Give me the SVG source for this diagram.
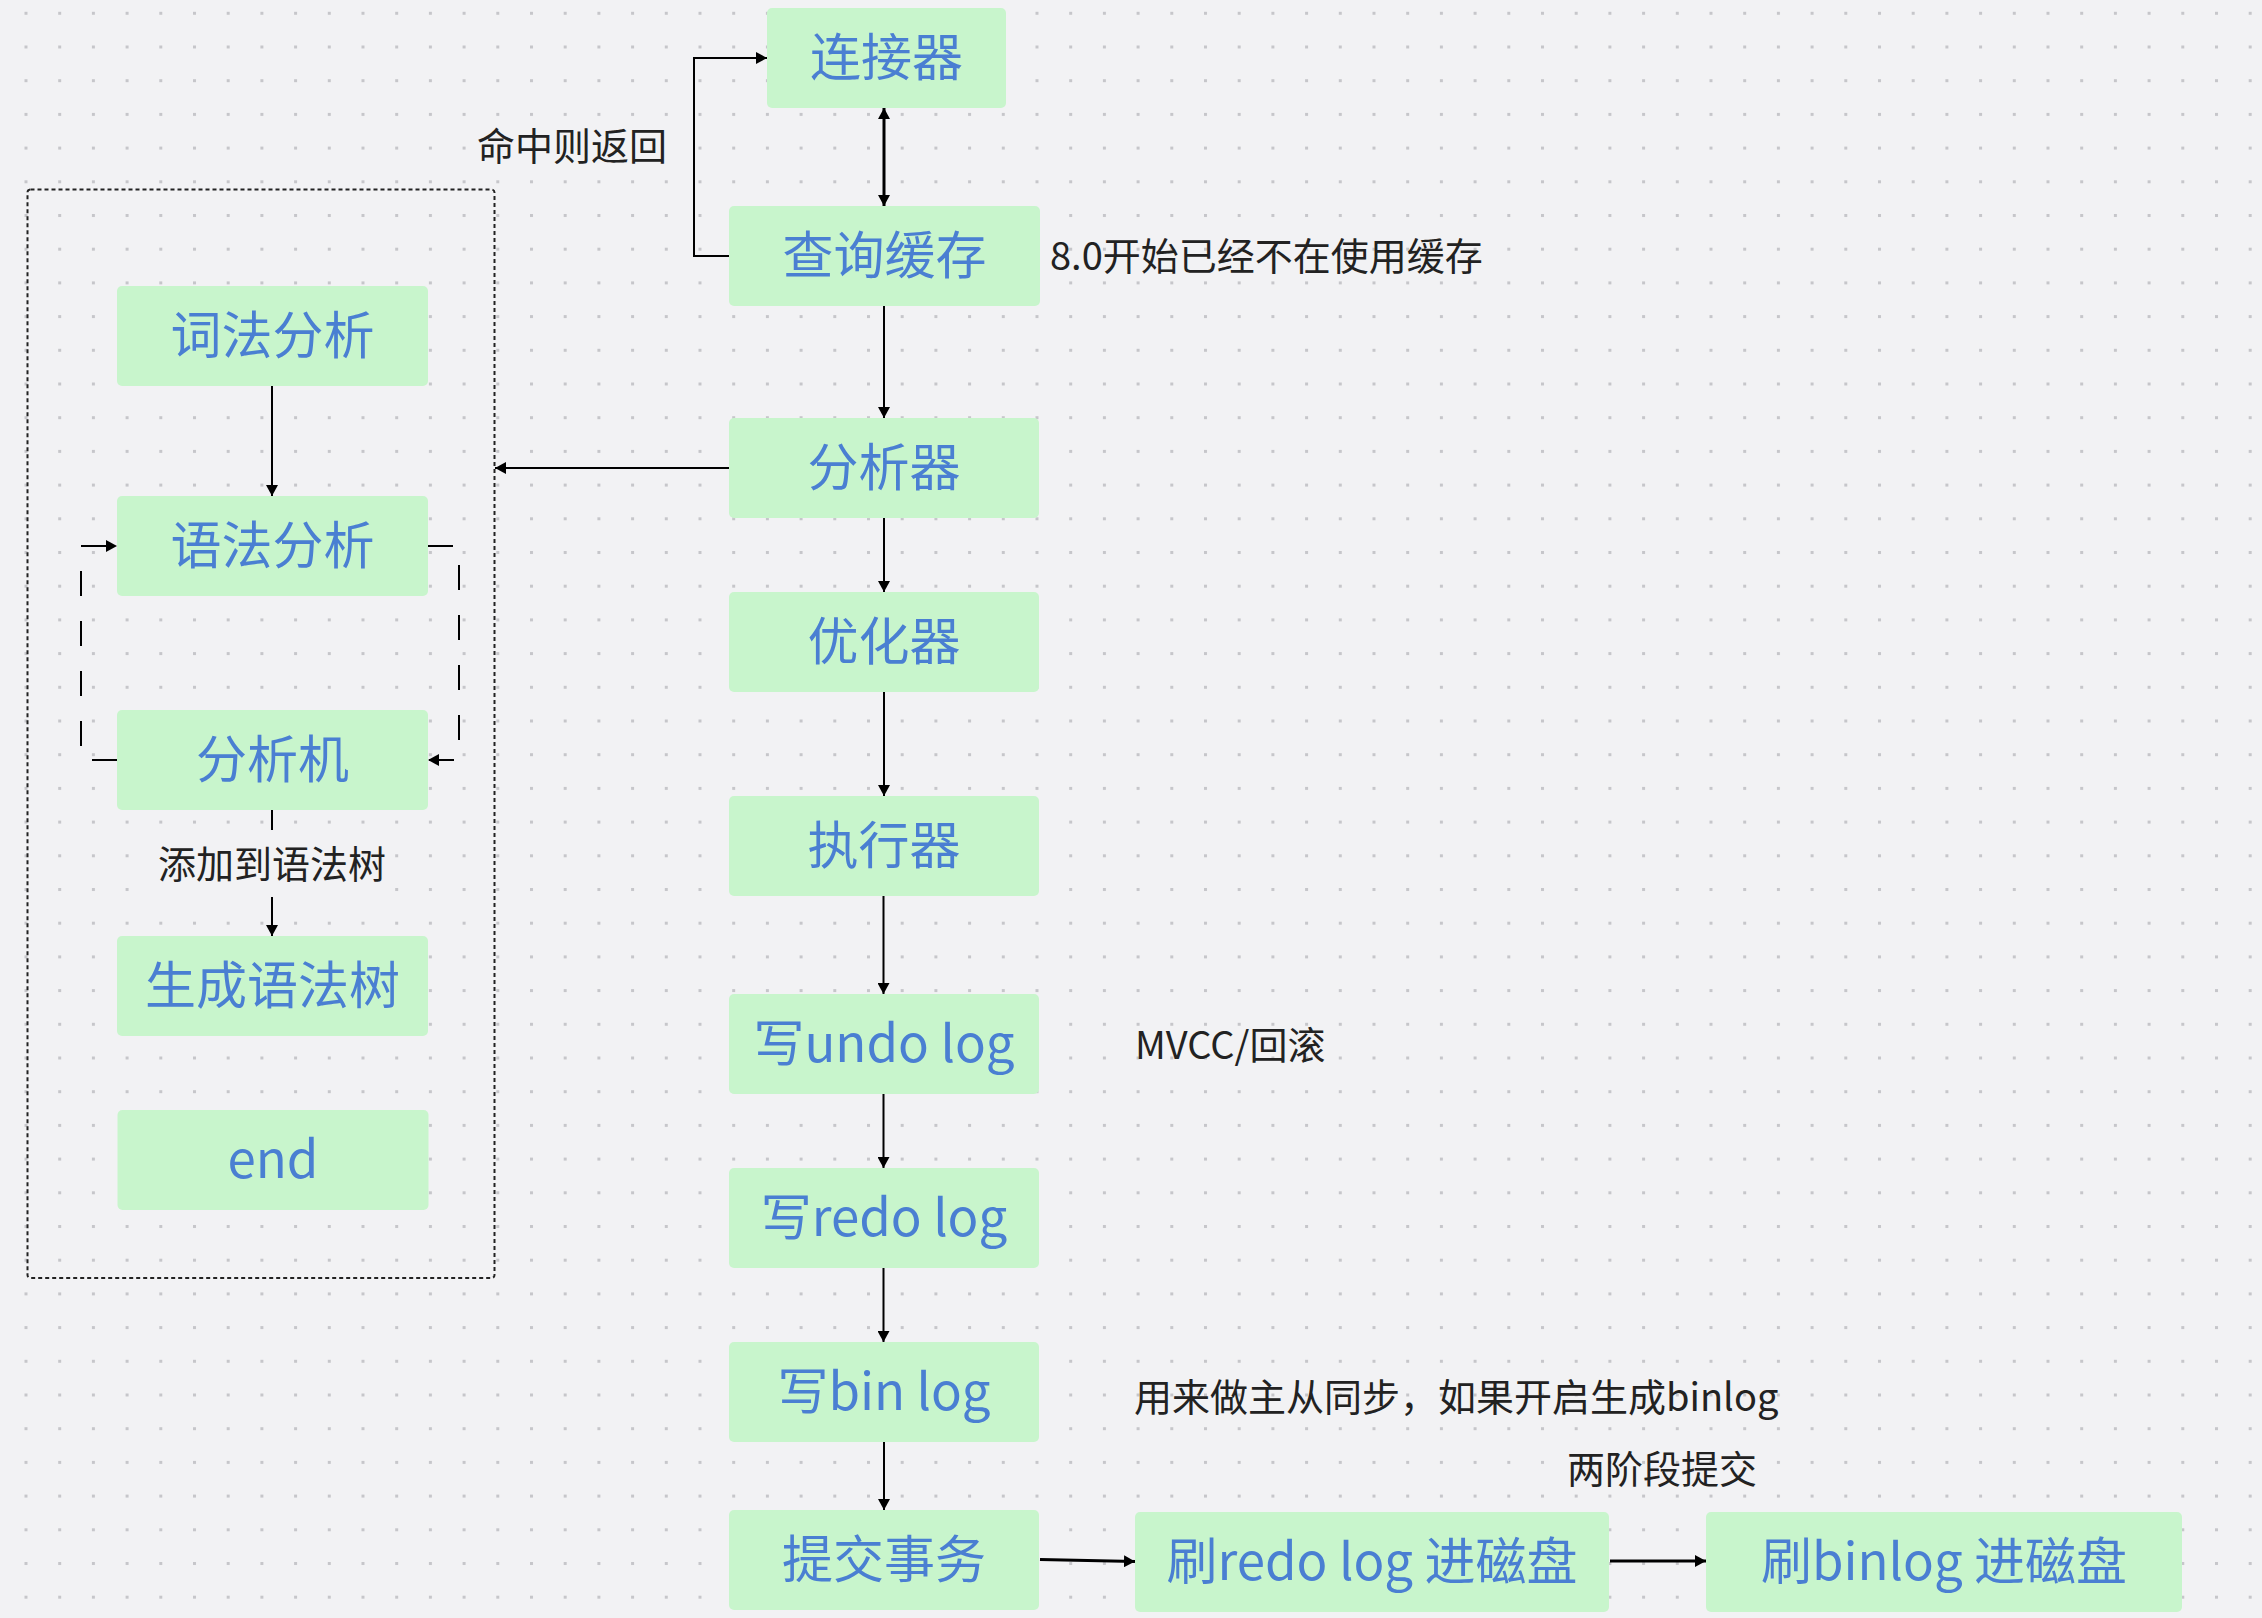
<svg xmlns="http://www.w3.org/2000/svg" width="2262" height="1618" viewBox="0 0 2262 1618">
  <style>
    .node rect { fill: #c8f5cc; }
    .node text { font-family: "Noto Sans CJK SC", "Noto Sans", sans-serif; font-size: 51px; fill: #4a7fd2; text-anchor: middle; }
    .lbl { font-family: "Noto Sans CJK SC", "Noto Sans", sans-serif; font-size: 38px; fill: #222222; }
    .bgr { fill: #f2f2f4; }
    .edge { fill: none; stroke: #000000; stroke-width: 2; }
    .thick { stroke-width: 3; }
    .loop { stroke-dasharray: 25 25; }
  </style>
  <defs>
    <pattern id="dots" x="24.5" y="11.8" width="33.7" height="33.7" patternUnits="userSpaceOnUse">
      <rect x="0" y="0" width="3" height="3" fill="#c6c6ca"/>
    </pattern>
    <marker id="arr" viewBox="0 0 11 12" refX="11" refY="6" markerWidth="11" markerHeight="12" markerUnits="userSpaceOnUse" orient="auto-start-reverse">
      <path d="M0,0 L11,6 L0,12 z" fill="#000000"/>
    </marker>
  </defs>

  <rect x="0" y="0" width="2262" height="1618" fill="#f2f2f4"/>
  <rect x="0" y="0" width="2262" height="1618" fill="url(#dots)"/>

  <!-- container -->
  <g id="container">
    <rect x="27.5" y="189.5" width="467" height="1088.5" rx="3" fill="none" stroke="#222222" stroke-width="2" stroke-dasharray="4 3"/>
  </g>

  <!-- labels -->
  <g id="labels">
    <rect class="bgr" x="474" y="124" width="196" height="46"/>
    <text class="lbl" x="477" y="160">命中则返回</text>
    <text class="lbl" x="1050" y="270">8.0开始已经不在使用缓存</text>
    <text class="lbl" x="1135" y="1058.5">MVCC/回滚</text>
    <text class="lbl" x="1134" y="1411">用来做主从同步，如果开启生成binlog</text>
    <text class="lbl" x="1567" y="1483">两阶段提交</text>
    <rect class="bgr" x="150" y="832" width="245" height="64"/>
    <text class="lbl" x="272" y="878" text-anchor="middle">添加到语法树</text>
  </g>

  <!-- connectors -->
  <g id="connectors">
    <path class="edge" d="M729,256 L694,256 L694,58 L767,58" marker-end="url(#arr)"/>
    <path class="edge thick" d="M884,108 L884,206" marker-start="url(#arr)" marker-end="url(#arr)"/>
    <path class="edge" d="M884,306 L884,418" marker-end="url(#arr)"/>
    <path class="edge" d="M729,468 L495,468" marker-end="url(#arr)"/>
    <path class="edge" d="M884,518 L884,592" marker-end="url(#arr)"/>
    <path class="edge" d="M884,692 L884,796" marker-end="url(#arr)"/>
    <path class="edge" d="M883.5,896 L883.5,994" marker-end="url(#arr)"/>
    <path class="edge" d="M883.5,1094 L883.5,1168" marker-end="url(#arr)"/>
    <path class="edge" d="M883.5,1268 L883.5,1342" marker-end="url(#arr)"/>
    <path class="edge" d="M884,1442 L884,1510" marker-end="url(#arr)"/>
    <path class="edge thick" d="M1040,1559.5 L1135,1561.5" marker-end="url(#arr)"/>
    <path class="edge thick" d="M1610,1561 L1706,1561" marker-end="url(#arr)"/>
    <path class="edge" d="M272,386 L272,496" marker-end="url(#arr)"/>
    <path class="edge loop" d="M117,760 L81,760 L81,546 L117,546" marker-end="url(#arr)"/>
    <path class="edge loop" d="M428,546 L459,546 L459,760 L428,760" marker-end="url(#arr)"/>
    <path class="edge" d="M272,810 L272,830"/>
    <path class="edge" d="M272,897 L272,936" marker-end="url(#arr)"/>
  </g>

  <!-- nodes -->
  <g id="n-connector" class="node"><rect x="767" y="8" width="239" height="100" rx="5"/><text x="886.5" y="76">连接器</text></g>
  <g id="n-cache" class="node"><rect x="729" y="206" width="311" height="100" rx="5"/><text x="884.5" y="274">查询缓存</text></g>
  <g id="n-analyzer" class="node"><rect x="729" y="418" width="310" height="100" rx="5"/><text x="884" y="486">分析器</text></g>
  <g id="n-optimizer" class="node"><rect x="729" y="592" width="310" height="100" rx="5"/><text x="884" y="660">优化器</text></g>
  <g id="n-executor" class="node"><rect x="729" y="796" width="310" height="100" rx="5"/><text x="884" y="864">执行器</text></g>
  <g id="n-undo" class="node"><rect x="729" y="994" width="310" height="100" rx="5"/><text x="884" y="1062">写undo log</text></g>
  <g id="n-redo" class="node"><rect x="729" y="1168" width="310" height="100" rx="5"/><text x="884" y="1236">写redo log</text></g>
  <g id="n-bin" class="node"><rect x="729" y="1342" width="310" height="100" rx="5"/><text x="884" y="1410">写bin log</text></g>
  <g id="n-commit" class="node"><rect x="729" y="1510" width="310" height="100" rx="5"/><text x="884" y="1578">提交事务</text></g>
  <g id="n-flush-redo" class="node"><rect x="1135" y="1512" width="474" height="100" rx="5"/><text x="1372" y="1580">刷redo log 进磁盘</text></g>
  <g id="n-flush-bin" class="node"><rect x="1706" y="1512" width="476" height="100" rx="5"/><text x="1944" y="1580">刷binlog 进磁盘</text></g>
  <g id="n-lex" class="node"><rect x="117" y="286" width="311" height="100" rx="5"/><text x="272.5" y="354">词法分析</text></g>
  <g id="n-syntax" class="node"><rect x="117" y="496" width="311" height="100" rx="5"/><text x="272.5" y="564">语法分析</text></g>
  <g id="n-machine" class="node"><rect x="117" y="710" width="311" height="100" rx="5"/><text x="272.5" y="778">分析机</text></g>
  <g id="n-tree" class="node"><rect x="117" y="936" width="311" height="100" rx="5"/><text x="272.5" y="1004">生成语法树</text></g>
  <g id="n-end" class="node"><rect x="117.5" y="1110" width="311" height="100" rx="5"/><text x="273" y="1178">end</text></g>
</svg>
